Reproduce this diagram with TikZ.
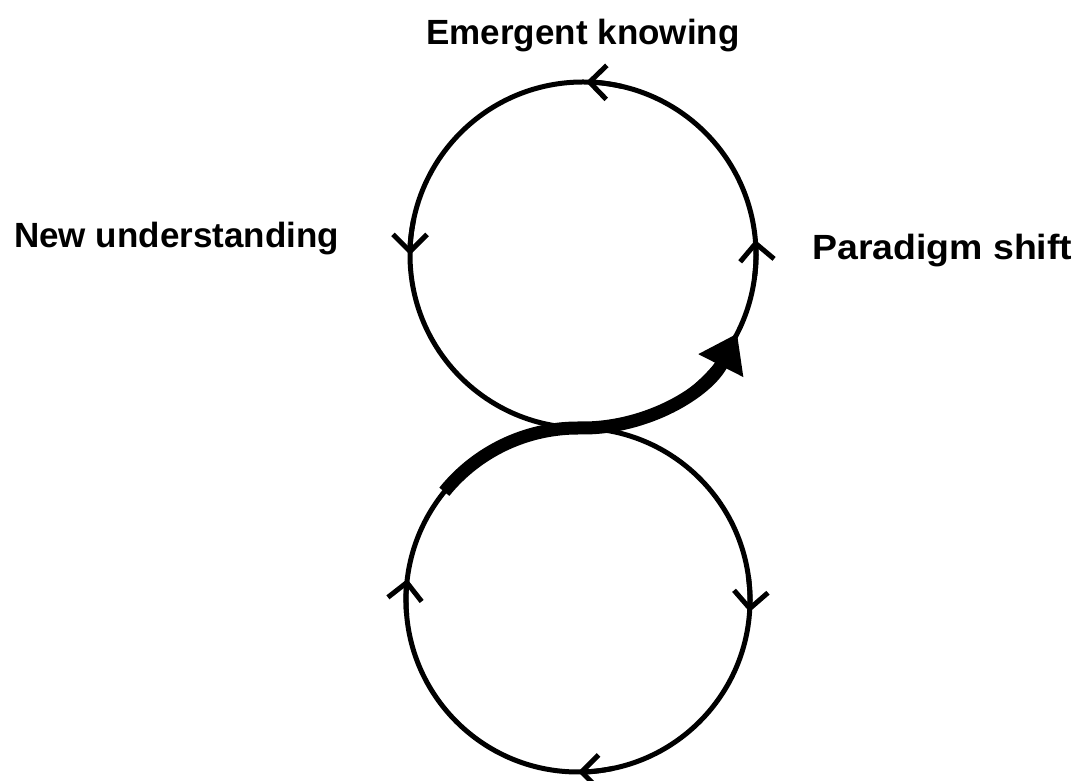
\documentclass[tikz,border=0pt]{standalone}
\usepackage{fontspec}
\setmainfont{Liberation Sans}
\usetikzlibrary{arrows.meta}
\begin{document}
\begin{tikzpicture}[x=1pt,y=1pt,
  loopring/.style={circle, draw, line width=5pt, outer sep=0pt, inner sep=0pt},
  barb/.style={line width=5pt, -{Straight Barb[length=17pt,width=34pt]}},
  shiftarrow/.style={line width=13pt, -{Triangle[length=36pt,width=48pt]}},
  tag/.style={font=\bfseries\fontsize{35}{40}\selectfont, inner sep=0pt}]
\useasboundingbox (0,0) rectangle (1080,781);

% the two loops of the figure eight
\node[loopring, minimum size=346pt] (upper) at (583,526) {};
\node[loopring, minimum size=344pt] (lower) at (578,181) {};

% direction marks on the upper loop (anticlockwise)
\draw[barb] (upper.77)  arc[start angle=77,  end angle=89,  radius=173pt];
\draw[barb] (upper.168) arc[start angle=168, end angle=180, radius=173pt];
\draw[barb] (upper.-7)  arc[start angle=-7,  end angle=5,   radius=173pt];

% direction marks on the lower loop (clockwise)
\draw[barb] (lower.185) arc[start angle=185, end angle=173, radius=172pt];
\draw[barb] (lower.8)   arc[start angle=8,   end angle=-4,  radius=172pt];
\draw[barb] (lower.282) arc[start angle=282, end angle=270, radius=172pt];

% heavy arrow crossing from the lower loop into the upper one
\draw[shiftarrow] (lower.141) arc[start angle=141, end angle=90, radius=172pt]
  -- (upper.270) arc[start angle=270, end angle=333, radius=173pt];

% labels
\node[tag, anchor=base] (emerge) at (583,736) {Emergent knowing};
\node[tag, anchor=base west] (newund) at (14,533) {New understanding};
\node[tag, anchor=base west, xscale=1.07] (shift) at (812,521) {Paradigm shift};
\end{tikzpicture}
\end{document}
